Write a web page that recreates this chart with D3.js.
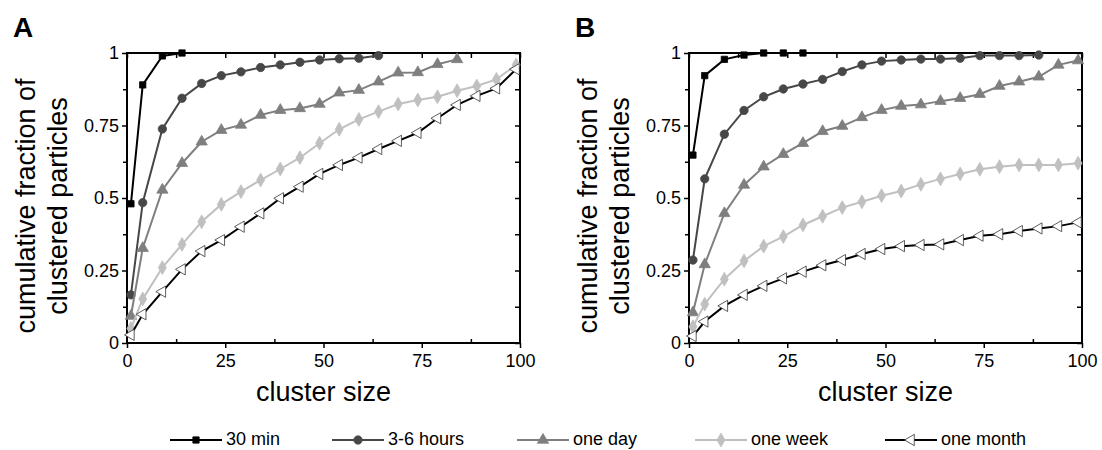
<!DOCTYPE html>
<html>
<head>
<meta charset="utf-8">
<script src="https://cdn.jsdelivr.net/npm/d3@7/dist/d3.min.js"></script>
<style>
  body { margin: 0; background: #fff; }
  svg text { font-family: "Liberation Sans", Arial, sans-serif; fill: #000; }
</style>
</head>
<body>
<svg id="chart" width="1102" height="450"></svg>
<script>
/* data */
const seriesNames = ["30 min", "3-6 hours", "one day", "one week", "one month"];
const clusterSize = [1, 4, 9, 14, 19, 24, 29, 34, 39, 44, 49, 54, 59, 64, 69, 74, 79, 84, 89, 94, 99];

// panel A
const a30min = [0.48, 0.89, 0.99, 1.0];
const a3to6h = [0.166, 0.484, 0.738, 0.844, 0.895, 0.922, 0.935, 0.95, 0.959, 0.968, 0.976, 0.98, 0.982, 0.991];
const aOneDay = [0.093, 0.327, 0.528, 0.62, 0.694, 0.734, 0.752, 0.786, 0.803, 0.809, 0.824, 0.863, 0.872, 0.901, 0.932, 0.933, 0.961, 0.978];
const aOneWeek = [0.05, 0.152, 0.26, 0.34, 0.418, 0.478, 0.522, 0.562, 0.6, 0.639, 0.689, 0.737, 0.771, 0.798, 0.824, 0.838, 0.849, 0.87, 0.886, 0.909, 0.959];
const aOneMonth = [0.028, 0.099, 0.177, 0.254, 0.317, 0.355, 0.401, 0.447, 0.499, 0.539, 0.583, 0.614, 0.639, 0.669, 0.697, 0.725, 0.775, 0.821, 0.852, 0.878, 0.944];

// panel B
const b30min = [0.648, 0.922, 0.978, 0.993, 1.0, 1.0, 1.0];
const b3to6h = [0.286, 0.566, 0.72, 0.802, 0.849, 0.876, 0.893, 0.909, 0.936, 0.959, 0.972, 0.976, 0.979, 0.979, 0.982, 0.991, 0.991, 0.991, 0.993];
const bOneDay = [0.105, 0.271, 0.447, 0.545, 0.608, 0.651, 0.689, 0.73, 0.748, 0.778, 0.803, 0.817, 0.822, 0.834, 0.844, 0.858, 0.886, 0.901, 0.918, 0.959, 0.974];
const bOneWeek = [0.056, 0.134, 0.22, 0.283, 0.334, 0.367, 0.407, 0.437, 0.467, 0.487, 0.508, 0.524, 0.547, 0.566, 0.583, 0.599, 0.608, 0.614, 0.614, 0.614, 0.62];
const bOneMonth = [0.024, 0.074, 0.128, 0.166, 0.197, 0.223, 0.246, 0.268, 0.286, 0.307, 0.324, 0.334, 0.338, 0.34, 0.355, 0.37, 0.375, 0.386, 0.395, 0.403, 0.416];

const xTicks = [0, 25, 50, 75, 100];
const yTicks = [0, 0.25, 0.5, 0.75, 1];
const yTickLabels = ["0", "0.25", "0.5", "0.75", "1"];

const svg = d3.select('#chart');

// one style per series: line colour, marker
const styles = [
  { line: '#000', shape: d3.symbolSquare, size: 40, fill: '#000', stroke: '#000', rot: 0 },
  { line: '#474747', shape: d3.symbolCircle, size: 55, fill: '#474747', stroke: '#474747', rot: 0 },
  { line: '#7f7f7f', shape: d3.symbolTriangle, size: 55, fill: '#7f7f7f', stroke: '#7f7f7f', rot: 0 },
  { line: '#c0c0c0', shape: d3.symbolDiamond, size: 55, fill: '#c0c0c0', stroke: '#c0c0c0', rot: 0 },
  { line: '#000', shape: d3.symbolTriangle, size: 55, fill: '#fff', stroke: '#333', rot: -90 }
];

function drawPanel(left, letter, series) {
  const top = 53, bottom = 343, right = left + 393;
  const x = d3.scaleLinear().domain([0, 100]).range([left, right]);
  const y = d3.scaleLinear().domain([0, 1]).range([bottom, top]);
  const g = svg.append('g');

  const minorX = d3.range(12.5, 100, 25);
  const minorY = d3.range(0.125, 1, 0.25);

  // left axis, ticks outward
  g.append('g').attr('transform', `translate(${left},0)`)
    .call(d3.axisLeft(y).tickValues(yTicks).tickFormat((d, i) => yTickLabels[i]).tickSize(5).tickPadding(3))
    .call(a => a.selectAll('text').attr('font-size', 18).style('font-family', 'Liberation Sans, Arial'));
  g.append('g').attr('transform', `translate(${left},0)`)
    .call(d3.axisLeft(y).tickValues(minorY).tickFormat('').tickSize(4));

  // bottom axis
  g.append('g').attr('transform', `translate(0,${bottom})`)
    .call(d3.axisBottom(x).tickValues(xTicks).tickSize(5).tickPadding(6))
    .call(a => a.selectAll('text').attr('font-size', 18).style('font-family', 'Liberation Sans, Arial'));
  g.append('g').attr('transform', `translate(0,${bottom})`)
    .call(d3.axisBottom(x).tickValues(minorX).tickFormat('').tickSize(-4));

  // top and right, ticks inward
  g.append('g').attr('transform', `translate(0,${top})`)
    .call(d3.axisTop(x).tickValues(xTicks.concat(minorX)).tickFormat('').tickSize(-5));
  g.append('g').attr('transform', `translate(${right},0)`)
    .call(d3.axisRight(y).tickValues(yTicks.concat(minorY)).tickFormat('').tickSize(-5));

  g.selectAll('.domain').remove();
  g.selectAll('.tick line').attr('stroke', '#000').attr('stroke-width', 1.5);

  g.append('rect')
    .attr('x', left).attr('y', top)
    .attr('width', right - left).attr('height', bottom - top)
    .attr('fill', 'none').attr('stroke', '#000').attr('stroke-width', 2);

  const line = d3.line().x(d => x(d[0])).y(d => y(d[1]));

  series.forEach((vals, si) => {
    const st = styles[si];
    const pts = vals.map((v, i) => [clusterSize[i], v]);
    g.append('path').datum(pts)
      .attr('d', line)
      .attr('fill', 'none')
      .attr('stroke', st.line)
      .attr('stroke-width', 2);
    g.selectAll('.m' + si).data(pts).enter().append('path')
      .attr('d', d3.symbol().type(st.shape).size(st.size))
      .attr('transform', d => `translate(${x(d[0])},${y(d[1])}) rotate(${st.rot})`)
      .attr('fill', st.fill)
      .attr('stroke', st.stroke)
      .attr('stroke-width', 0.8);
  });

  // axis titles
  g.append('text')
    .attr('x', (left + right) / 2).attr('y', 401)
    .attr('text-anchor', 'middle').attr('font-size', 27)
    .text('cluster size');

  const yt = g.append('text')
    .attr('transform', `translate(${left - 92},${(top + bottom) / 2 + 8}) rotate(-90)`)
    .attr('text-anchor', 'middle').attr('font-size', 27);
  yt.append('tspan').attr('x', 0).attr('dy', 0).text('cumulative fraction of');
  yt.append('tspan').attr('x', 0).attr('dy', 32).text('clustered particles');

  g.append('text')
    .attr('x', left - 114).attr('y', 37)
    .attr('font-size', 28).attr('font-weight', 'bold')
    .text(letter);
}

drawPanel(127, 'A', [a30min, a3to6h, aOneDay, aOneWeek, aOneMonth]);
drawPanel(689, 'B', [b30min, b3to6h, bOneDay, bOneWeek, bOneMonth]);

// legend
const legendStart = [170, 332, 517, 695, 885];
const leg = svg.append('g');
seriesNames.forEach((name, i) => {
  const st = styles[i];
  const x0 = legendStart[i], ly = 440;
  leg.append('line')
    .attr('x1', x0).attr('x2', x0 + 52).attr('y1', ly).attr('y2', ly)
    .attr('stroke', st.line).attr('stroke-width', 2);
  leg.append('path')
    .attr('d', d3.symbol().type(st.shape).size(st.size)())
    .attr('transform', `translate(${x0 + 26},${ly}) rotate(${st.rot})`)
    .attr('fill', st.fill).attr('stroke', st.stroke).attr('stroke-width', 0.8);
  leg.append('text')
    .attr('x', x0 + 56).attr('y', ly + 5)
    .attr('font-size', 18)
    .text(name);
});
</script>
</body>
</html>
